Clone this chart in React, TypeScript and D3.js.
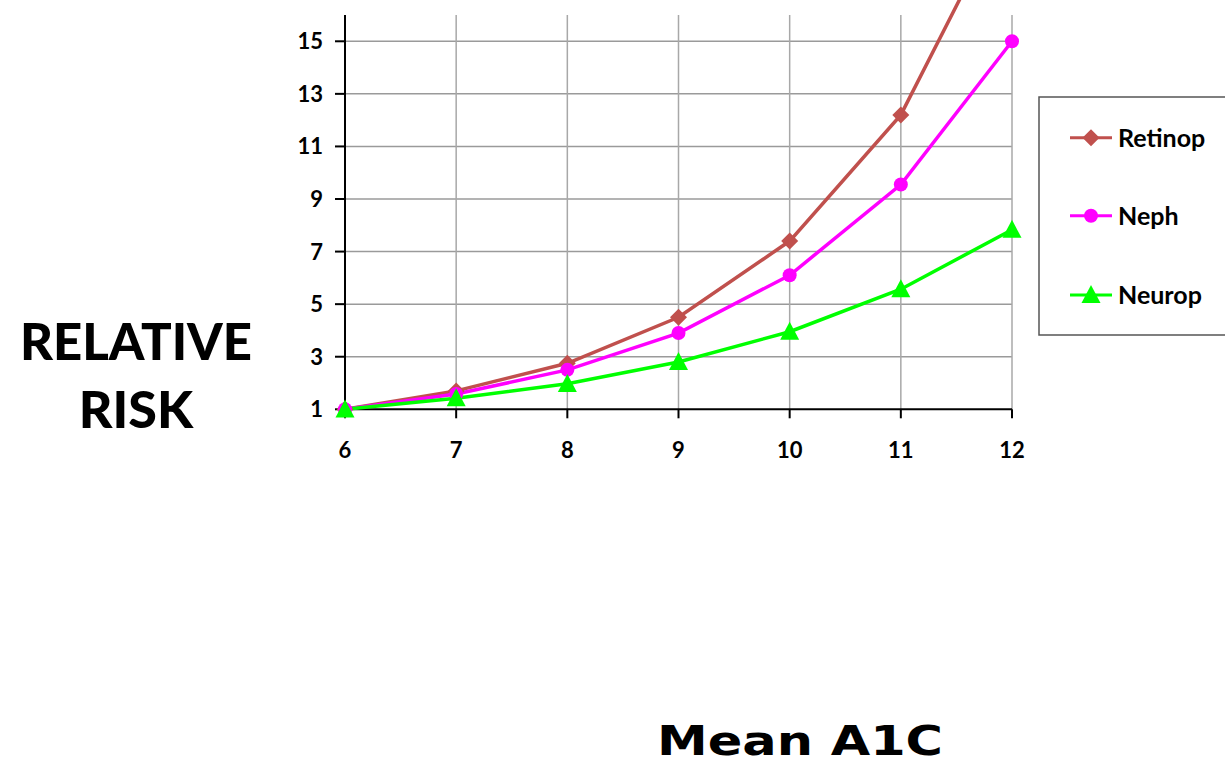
import React from "react";
import * as d3 from "d3";

const a1c = [6, 7, 8, 9, 10, 11, 12];
const retinop = [1, 1.7, 2.75, 4.5, 7.4, 12.2, 20.5];
const neph = [1, 1.58, 2.5, 3.9, 6.1, 9.55, 15];
const neurop = [1, 1.42, 1.97, 2.8, 3.95, 5.57, 7.83];
const yTicks = [1, 3, 5, 7, 9, 11, 13, 15];
const seriesNames = ["Retinop", "Neph", "Neurop"];
const seriesColors = ["#C0504D", "#FF00FF", "#00FF00"];
const seriesShapes = ["diamond", "circle", "triangle"];

const W = 1225;
const H = 769;
const FONT = "Lato, 'DejaVu Sans', sans-serif";

function Marker({ shape, x, y, color }: { shape: string; x: number; y: number; color: string }) {
  if (shape === "diamond") {
    const s = 8.5;
    return <path d={`M${x},${y - s}L${x + s},${y}L${x},${y + s}L${x - s},${y}Z`} fill={color} />;
  }
  if (shape === "circle") return <circle cx={x} cy={y} r={7} fill={color} />;
  const h = 18;
  const w = 9.5;
  return <path d={`M${x},${y - h * 0.55}L${x + w},${y + h * 0.45}L${x - w},${y + h * 0.45}Z`} fill={color} />;
}

export default function App() {
  const x = d3.scaleLinear().domain([6, 12]).range([345, 1012]);
  const y = d3.scaleLinear().domain([1, 16]).range([409.3, 15]);
  const series = [retinop, neph, neurop];
  const line = d3
    .line<number>()
    .x((_, i) => x(a1c[i]))
    .y((d) => y(d));

  return (
    <svg
      width={W}
      height={H}
      style={{ position: "absolute", left: 0, top: 0, background: "#fff" }}
      fontFamily={FONT}
    >
      <rect width={W} height={H} fill="#fff" />
      {/* grid */}
      {yTicks.slice(1).map((t) => (
        <line key={"gy" + t} x1={x(6)} x2={x(12)} y1={y(t)} y2={y(t)} stroke="#9a9a9a" strokeWidth={1.5} />
      ))}
      {a1c.slice(1).map((t) => (
        <line key={"gx" + t} x1={x(t)} x2={x(t)} y1={y(16)} y2={y(1)} stroke="#a8a8a8" strokeWidth={1.5} />
      ))}
      {/* axes */}
      <line x1={x(6)} x2={x(6)} y1={y(16)} y2={y(1)} stroke="#000" strokeWidth={2} />
      <line x1={x(6)} x2={x(12)} y1={y(1)} y2={y(1)} stroke="#000" strokeWidth={2} />
      {yTicks.map((t) => (
        <g key={"yt" + t}>
          <line x1={x(6) - 10} x2={x(6)} y1={y(t)} y2={y(t)} stroke="#000" strokeWidth={2} />
          <text x={323} y={y(t)} dy="0.36em" textAnchor="end" fontSize={22} fontWeight="bold">
            {t}
          </text>
        </g>
      ))}
      {a1c.map((t) => (
        <g key={"xt" + t}>
          <line x1={x(t)} x2={x(t)} y1={y(1)} y2={y(1) + 9} stroke="#000" strokeWidth={2} />
          <text x={x(t)} y={458} textAnchor="middle" fontSize={22} fontWeight="bold">
            {t}
          </text>
        </g>
      ))}
      {/* series */}
      {series.map((s, si) => (
        <path key={"l" + si} d={line(s) || ""} fill="none" stroke={seriesColors[si]} strokeWidth={3.5} />
      ))}
      {series.map((s, si) =>
        s.map((v, i) =>
          v <= 16 ? (
            <Marker key={"m" + si + "-" + i} shape={seriesShapes[si]} x={x(a1c[i])} y={y(v)} color={seriesColors[si]} />
          ) : null
        )
      )}
      {/* legend */}
      <rect x={1039} y={97} width={200} height={238} fill="#fff" stroke="#555" strokeWidth={1.5} />
      {seriesNames.map((n, i) => {
        const ly = [137.7, 215.7, 295][i];
        return (
          <g key={"lg" + n}>
            <line x1={1070} x2={1112} y1={ly} y2={ly} stroke={seriesColors[i]} strokeWidth={3} />
            <Marker shape={seriesShapes[i]} x={1091} y={ly} color={seriesColors[i]} />
            <text x={1118} y={ly} dy="0.36em" fontSize={25} fontWeight="bold">
              {n}
            </text>
          </g>
        );
      })}
      {/* axis titles */}
      <text x={136} y={360} textAnchor="middle" fontSize={52} fontWeight={900} textLength={232} lengthAdjust="spacingAndGlyphs">
        RELATIVE
      </text>
      <text x={136} y={428} textAnchor="middle" fontSize={52} fontWeight={900}>
        RISK
      </text>
      <text
        x={800}
        y={755}
        textAnchor="middle"
        fontSize={41}
        fontWeight="bold"
        fontFamily="'DejaVu Sans', sans-serif"
        textLength={286}
        lengthAdjust="spacingAndGlyphs"
      >
        Mean A1C
      </text>
    </svg>
  );
}
